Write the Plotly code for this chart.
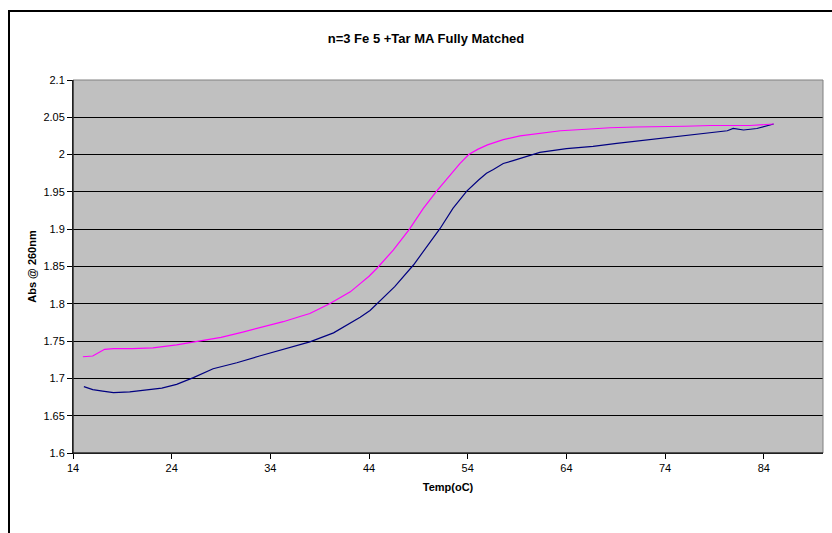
import plotly.graph_objects as go

# Pink (magenta) series
pink_t = [15.0, 16.0, 17.2, 18.1, 20.0, 22.1, 24.5, 26.85, 29.0, 31.2, 33.3, 35.3, 37.0, 38.0, 40.0,
          41.05, 42.1, 43.1, 44.0, 44.9, 46.45, 48.1, 49.5, 50.85, 52.2, 53.2, 54.1, 55.0, 56.0,
          57.6, 59.3, 61.5, 63.4, 66.0, 68.4, 71.0, 73.5, 76.0, 78.6, 80.5, 82.6, 85.0]
pink_v = [1.729, 1.730, 1.739, 1.740, 1.740, 1.741, 1.745, 1.750, 1.755, 1.762, 1.769, 1.776, 1.783, 1.787, 1.800,
          1.808, 1.816, 1.827, 1.837, 1.849, 1.872, 1.900, 1.928, 1.951, 1.972, 1.988, 2.000, 2.007, 2.013,
          2.020, 2.025, 2.029, 2.032, 2.034, 2.036, 2.037, 2.038, 2.038, 2.039, 2.039, 2.039, 2.041]

# Blue (navy) series
blue_t = [15.1, 16.0, 17.0, 18.1, 19.75, 21.8, 23.0, 24.5, 26.2, 28.2, 30.6, 32.9, 35.6, 38.0, 40.4,
          41.05, 42.4, 43.1, 44.1, 44.9, 46.6, 48.5, 49.8, 51.2, 52.5, 53.9, 55.1, 55.9, 56.6, 57.6,
          58.6, 59.3, 61.3, 64.0, 66.7, 69.1, 71.8, 74.2, 77.5, 80.3, 80.9, 81.95, 83.3, 85.0]
blue_v = [1.689, 1.685, 1.683, 1.681, 1.682, 1.685, 1.687, 1.692, 1.701, 1.713, 1.721, 1.730, 1.740, 1.749, 1.761,
          1.766, 1.776, 1.782, 1.791, 1.801, 1.823, 1.852, 1.876, 1.901, 1.928, 1.951, 1.966, 1.975, 1.980, 1.988,
          1.992, 1.995, 2.003, 2.008, 2.011, 2.015, 2.019, 2.023, 2.028, 2.032, 2.035, 2.033, 2.035, 2.041]

x_ticks = [14, 24, 34, 44, 54, 64, 74, 84]
y_ticks = [1.6, 1.65, 1.7, 1.75, 1.8, 1.85, 1.9, 1.95, 2.0, 2.05, 2.1]
y_tick_text = ["1.6", "1.65", "1.7", "1.75", "1.8", "1.85", "1.9", "1.95", "2", "2.05", "2.1"]

FONT = "Liberation Sans, Arial, sans-serif"

fig = go.Figure()
fig.add_trace(go.Scatter(x=blue_t, y=blue_v, mode="lines",
                         line=dict(color="#000080", width=1.2), showlegend=False))
fig.add_trace(go.Scatter(x=pink_t, y=pink_v, mode="lines",
                         line=dict(color="#FF00FF", width=1.2), showlegend=False))

W, H = 832, 533
L, R, T, B = 73, 9, 80, 80
pw, ph = W - L - R, H - T - B

def px_to_paper_x(px):
    return (px - L) / pw

def px_to_paper_y(py):
    return (H - B - py) / ph

fig.update_layout(
    width=W, height=H,
    margin=dict(l=L, r=R, t=T, b=B),
    paper_bgcolor="white",
    plot_bgcolor="#C0C0C0",
    font=dict(family=FONT, color="#000000", size=11),
    title=dict(text="<b>n=3 Fe 5 +Tar MA Fully Matched</b>", x=426 / W, xref="container",
               xanchor="center", y=1 - 38 / H, yanchor="middle", font=dict(size=13, family=FONT)),
    xaxis=dict(range=[14, 90], tickvals=x_ticks, ticktext=[str(v) for v in x_ticks],
               showgrid=False, zeroline=False, showline=True, linecolor="#000000", linewidth=1,
               ticks="outside", ticklen=5, tickcolor="#000000", tickfont=dict(size=11),
               title=dict(text="<b>Temp(oC)</b>", font=dict(size=11), standoff=10),
               mirror=False),
    yaxis=dict(range=[1.6, 2.1], tickvals=y_ticks, ticktext=y_tick_text,
               showgrid=True, gridcolor="#000000", gridwidth=1, zeroline=False,
               showline=True, linecolor="#000000", linewidth=1,
               ticks="outside", ticklen=5, tickcolor="#000000", tickfont=dict(size=11),
               title=dict(text="<b>Abs @ 260nm</b>", font=dict(size=11), standoff=4)),
    shapes=[
        dict(type="rect", xref="paper", yref="paper", x0=0, y0=0, x1=1, y1=1,
             line=dict(color="#808080", width=1), fillcolor="rgba(0,0,0,0)", layer="above"),
        dict(type="line", xref="paper", yref="paper", x0=0, y0=0, x1=0, y1=1,
             line=dict(color="#000000", width=1), layer="above"),
        dict(type="line", xref="paper", yref="paper", x0=0, y0=0, x1=1, y1=0,
             line=dict(color="#000000", width=1), layer="above"),
        dict(type="rect", xref="paper", yref="paper",
             x0=px_to_paper_x(9), x1=px_to_paper_x(845),
             y0=px_to_paper_y(545), y1=px_to_paper_y(11),
             line=dict(color="#000000", width=2), fillcolor="rgba(0,0,0,0)", layer="above"),
    ],
)

fig.write_html("out.html", config={"displayModeBar": False},
               post_script="document.body.style.margin='0';document.body.style.overflow='hidden';")
